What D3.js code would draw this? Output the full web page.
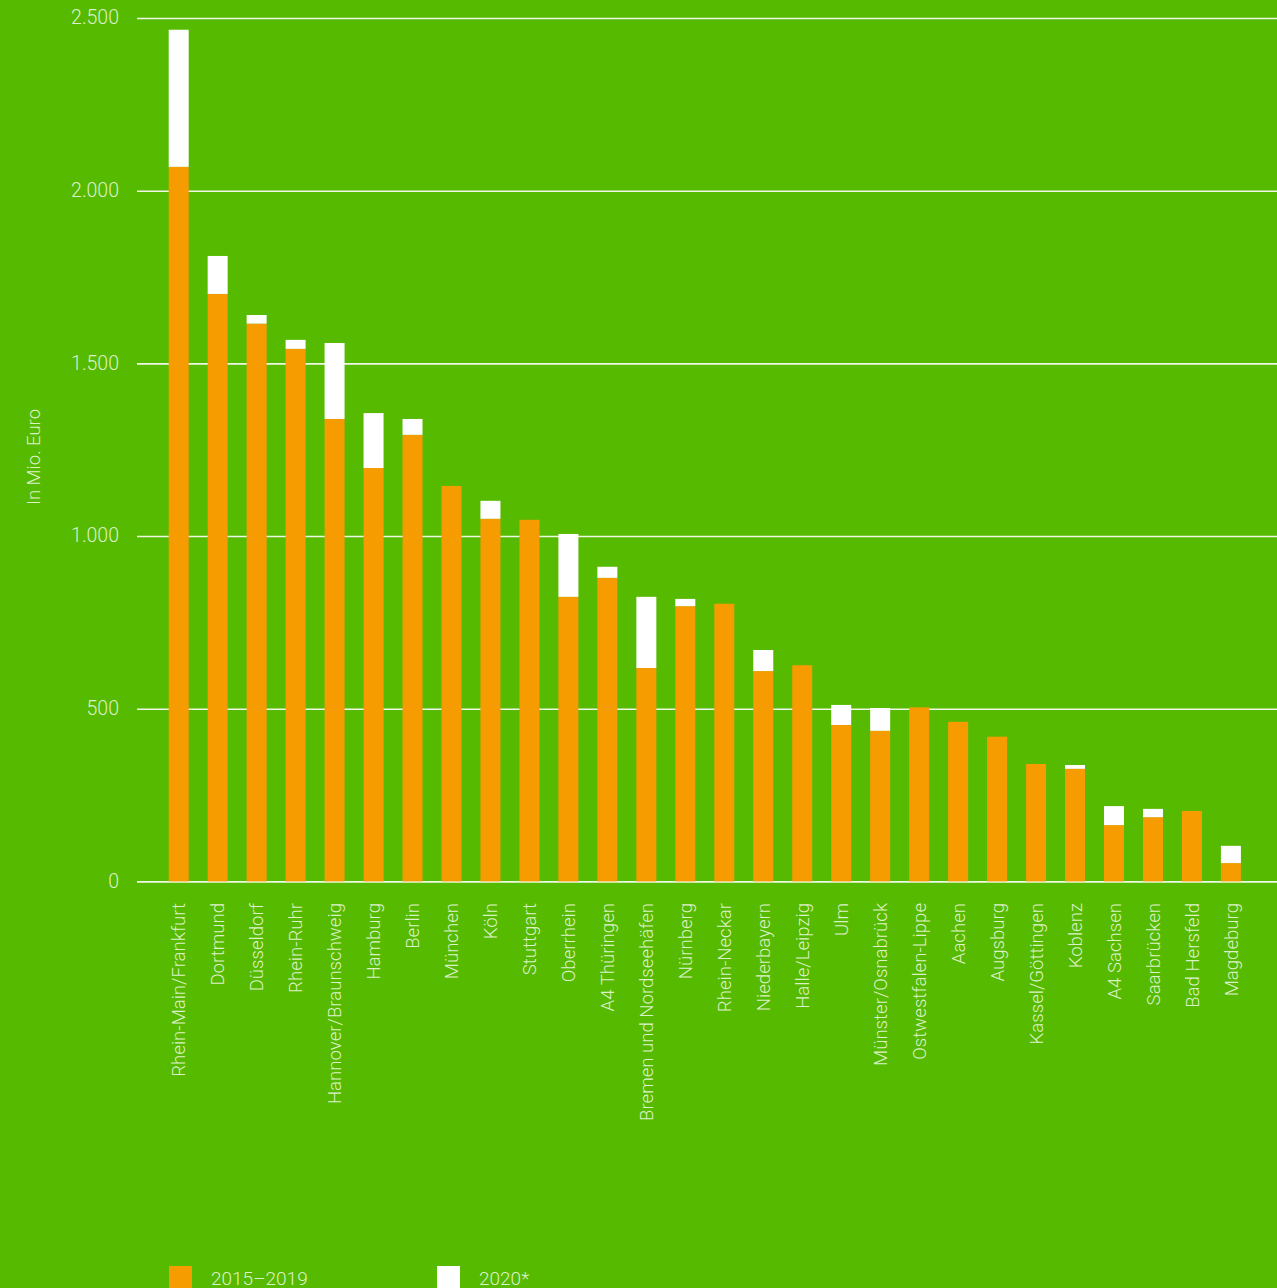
<!DOCTYPE html>
<html>
<head>
<meta charset="utf-8">
<script src="https://cdn.jsdelivr.net/npm/d3@7"></script>
<style>
  body { margin:0; background:#56ba00; }
  text { font-family: Roboto, "Liberation Sans", sans-serif; font-weight:300; fill:#dcf1c9; }
</style>
</head>
<body>
<div id="chart"></div>
<script>
var regions = ["Rhein-Main/Frankfurt","Dortmund","Düsseldorf","Rhein-Ruhr","Hannover/Braunschweig",
  "Hamburg","Berlin","München","Köln","Stuttgart","Oberrhein","A4 Thüringen","Bremen und Nordseehäfen",
  "Nürnberg","Rhein-Neckar","Niederbayern","Halle/Leipzig","Ulm","Münster/Osnabrück","Ostwestfalen-Lippe",
  "Aachen","Augsburg","Kassel/Göttingen","Koblenz","A4 Sachsen","Saarbrücken","Bad Hersfeld","Magdeburg"];
// 2015-2019
var val1519 = [2069,1701,1615,1542,1339,1197,1293,1145,1050,1047,824,879,618,
  797,804,609,626,453,436,504,462,419,340,326,163,186,204,53];
// 2020*
var val2020 = [397,110,25,26,220,159,46,0,52,0,182,32,206,
  21,0,61,0,58,66,0,0,0,0,11,55,24,0,50];
var yTicks = [0,500,1000,1500,2000,2500];
var seriesNames = ["2015–2019","2020*"];
var colors = ["#f79c00","#ffffff"];

var width = 1277, height = 1288;
var svg = d3.select("#chart").append("svg")
    .attr("width",width)
    .attr("height",height);

svg.append("rect").attr("width",width).attr("height",height).attr("fill","#56ba00");

var x = d3.scaleBand()
    .domain(regions)
    .range([159.2,1250.4])
    .paddingInner(0.487)
    .paddingOuter(0.2436);

var y = d3.scaleLinear()
    .domain([0,2500])
    .range([881.4,18]);

// grid lines
svg.append("g")
    .attr("class","grid")
    .attr("transform","translate(137,0)")
    .call(d3.axisLeft(y).tickValues(yTicks)
        .tickSize(-(1277-137))
        .tickFormat(""))
    .call(g => g.select(".domain").remove())
    .call(g => g.selectAll("line").attr("stroke","#eef8e4").attr("stroke-width",1.6));

// y tick labels
svg.append("g")
    .selectAll("text")
    .data(yTicks)
    .enter()
    .append("text")
    .attr("x",119)
    .attr("y",d => y(d))
    .attr("dy","0.32em")
    .style("text-anchor","end")
    .style("font-size","19.5px")
    .text(d => d3.format(",")(d).replace(",","."));

svg.append("text")
    .attr("transform","translate(40,457) rotate(-90)")
    .style("text-anchor","middle")
    .style("font-size","18.5px")
    .text("In Mio. Euro");

// stacked bars
var rows = regions.map((r,i) => ({region:r, a:val1519[i], b:val2020[i]}));
var stacked = d3.stack().keys(["a","b"])(rows);

svg.append("g")
    .selectAll("g")
    .data(stacked)
    .enter()
    .append("g")
    .attr("fill",(d,i) => colors[i])
    .selectAll("rect")
    .data(d => d)
    .enter()
    .append("rect")
    .attr("x",d => x(d.data.region))
    .attr("y",d => y(d[1]))
    .attr("width",x.bandwidth())
    .attr("height",d => y(d[0]) - y(d[1]));

// x labels
svg.append("g")
    .selectAll("text")
    .data(regions)
    .enter()
    .append("text")
    .attr("transform",d => "translate(" + (x(d)+x.bandwidth()/2) + ",903) rotate(-90)")
    .attr("dy","0.36em")
    .style("text-anchor","end")
    .style("font-size","18.6px")
    .text(d => d);

// legend
var legend = svg.append("g")
    .selectAll("g")
    .data(seriesNames)
    .enter()
    .append("g")
    .attr("transform",(d,i) => "translate(" + (169 + i*268) + ",1266)");
legend.append("rect")
    .attr("width",23)
    .attr("height",23)
    .attr("fill",(d,i) => colors[i]);
legend.append("text")
    .attr("x",42)
    .attr("y",19)
    .style("font-size","19px")
    .text(d => d);
</script>
</body>
</html>
